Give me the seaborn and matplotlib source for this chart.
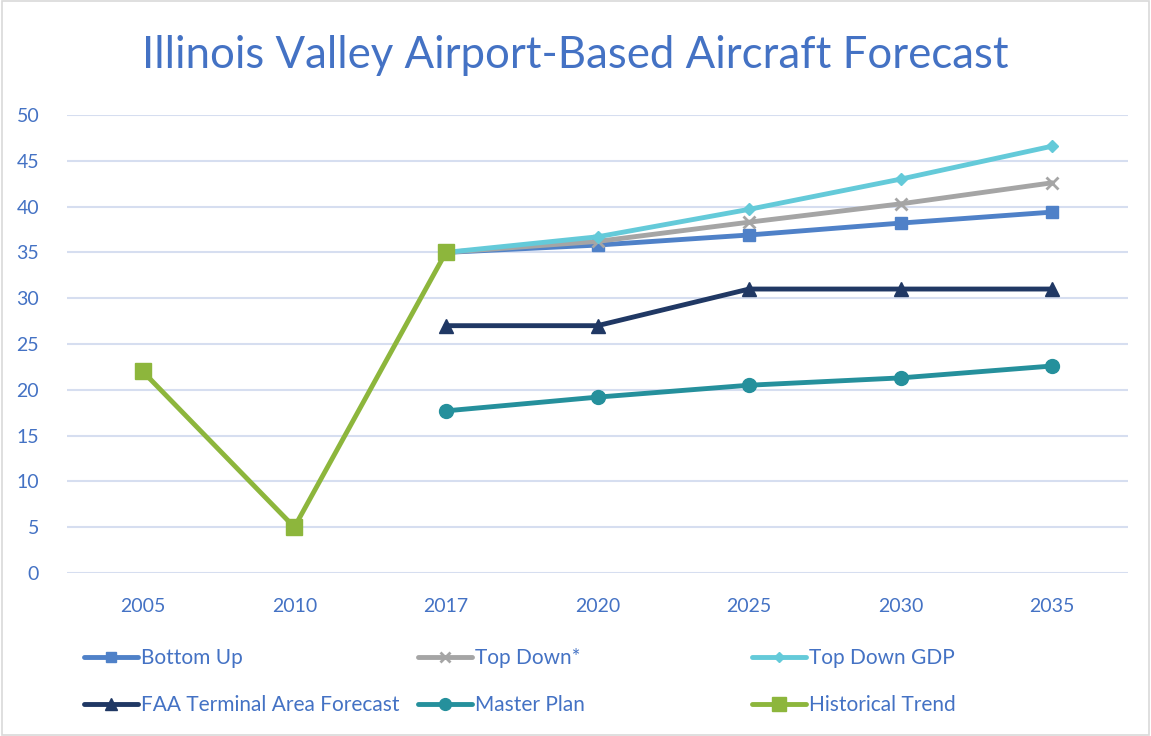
import matplotlib
matplotlib.use("Agg")
import matplotlib.pyplot as plt
import seaborn as sns
import pandas as pd
import numpy as np
from matplotlib.patches import Rectangle

categories = ["2005", "2010", "2017", "2020", "2025", "2030", "2035"]
bottom_up = [None, None, 35.0, 35.8, 36.9, 38.2, 39.4]
top_down = [None, None, 35.0, 36.2, 38.3, 40.3, 42.6]
top_down_gdp = [None, None, 35.0, 36.7, 39.7, 43.0, 46.6]
faa_taf = [None, None, 27, 27, 31, 31, 31]
master_plan = [None, None, 17.7, 19.2, 20.5, 21.3, 22.6]
historical = [22, 5, 35, None, None, None, None]
y_ticks = [0, 5, 10, 15, 20, 25, 30, 35, 40, 45, 50]

sns.set_theme(style="white")
plt.rcParams['font.family'] = ['Lato', 'DejaVu Sans']

fig = plt.figure(figsize=(11.51, 7.36), dpi=100)
ax = fig.add_axes([67/1151, 1-573/736, (1128-67)/1151, (573-115)/736])

series = [
    ("Master Plan", master_plan, "#25909C", "o", 10),
    ("FAA Terminal Area Forecast", faa_taf, "#203864", "^", 10),
    ("Bottom Up", bottom_up, "#4F81C8", "s", 9),
    ("Top Down*", top_down, "#A5A5A5", "x", 9),
    ("Top Down GDP", top_down_gdp, "#64CAD9", "D", 6.5),
    ("Historical Trend", historical, "#8DB63C", "s", 12),
]

handles = {}
for name, vals, color, marker, ms in series:
    df = pd.DataFrame({"x": np.arange(len(categories)), "y": vals}).dropna()
    sns.lineplot(data=df, x="x", y="y", ax=ax, color=color, linewidth=3.5,
                 marker=marker, markersize=ms, markeredgecolor=color,
                 markeredgewidth=2 if marker == "x" else 1, label=name, clip_on=False)
    handles[name] = ax.get_lines()[-1]

ax.set_xlim(-0.5, len(categories) - 0.5)
ax.set_ylim(0, 50)
ax.set_yticks(y_ticks)
ax.set_xticks(np.arange(len(categories)))
ax.set_xticklabels(categories)
ax.set_xlabel("")
ax.set_ylabel("")
tick_color = "#4472C4"
ax.tick_params(axis="y", colors=tick_color, labelsize=14, length=0, pad=20)
ax.tick_params(axis="x", colors=tick_color, labelsize=14, length=0, pad=18)
ax.grid(axis="y", color="#D6DEF0", linewidth=1.5)
ax.set_axisbelow(True)
for s in ax.spines.values():
    s.set_visible(False)

fig.text(0.5, 1-56/736, "Illinois Valley Airport-Based Aircraft Forecast",
         ha="center", va="center", fontsize=31.5, color="#4472C4")

if ax.get_legend():
    ax.get_legend().remove()
columns = [
    (["Bottom Up", "FAA Terminal Area Forecast"], 84),
    (["Top Down*", "Master Plan"], 418),
    (["Top Down GDP", "Historical Trend"], 752),
]
for names, xpix in columns:
    fig.legend([handles[n] for n in names], names, ncol=1, frameon=False,
               loc="upper left", bbox_to_anchor=(xpix/1151, 1-648/736),
               bbox_transform=fig.transFigure, fontsize=15, labelcolor="#4472C4",
               handlelength=2.6, handletextpad=0.12, borderaxespad=0,
               borderpad=0, labelspacing=1.3, markerscale=0.85)

fig.add_artist(Rectangle((0.002, 0.002), 0.996, 0.996, transform=fig.transFigure,
                         fill=False, edgecolor="#D9D9D9", linewidth=1.2))

fig.savefig("out.png", dpi=100)
